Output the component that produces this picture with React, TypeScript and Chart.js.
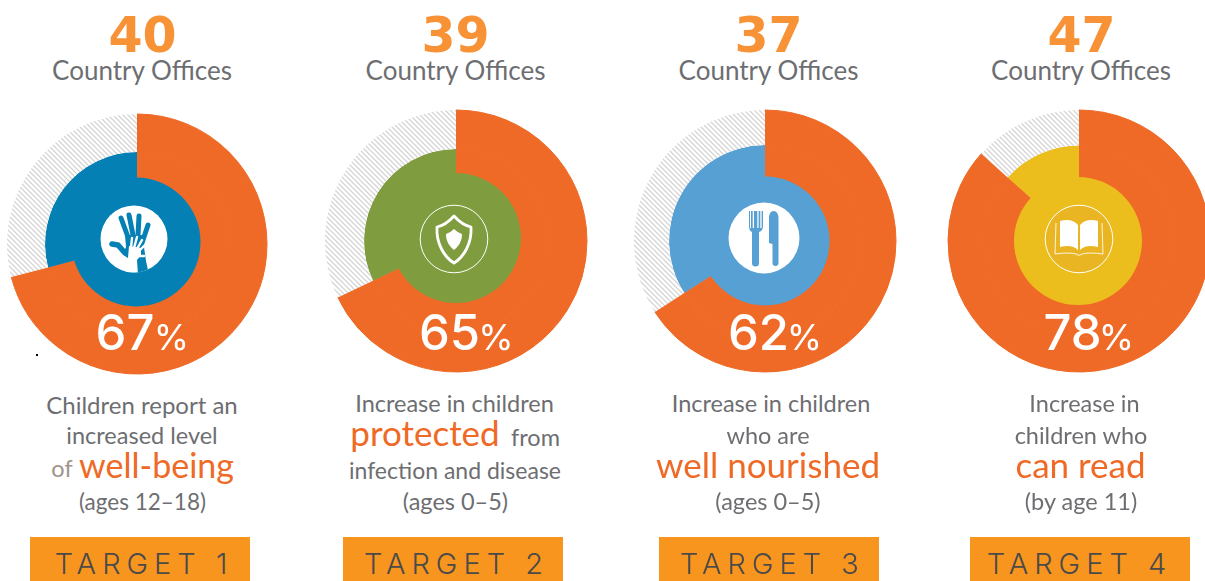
import React, { useEffect, useRef } from "react";
import { Chart, registerables } from "chart.js";

Chart.register(...registerables);

// ---- data ----
const officeCounts = ["40", "39", "37", "47"];
const officeLabel = "Country Offices";
const percentLabels = ["67", "65", "62", "78"];
const targetLabels = ["TARGET 1", "TARGET 2", "TARGET 3", "TARGET 4"];
// share of the full circle that the orange sweep actually covers in the picture
const orangeShare = [70.9, 67.9, 65.9, 86.6];
const hatchShare = [29.1, 32.1, 34.1, 13.4];
const discShare = [100, 100, 100, 100];

const descriptionLines = [
  ["Children report an", "increased level", "of", "well-being", "(ages 12\u201318)"],
  ["Increase in children", "protected", "from", "infection and disease", "(ages 0\u20135)"],
  ["Increase in children", "who are", "well nourished", "(ages 0\u20135)"],
  ["Increase in", "children who", "can read", "(by age 11)"],
];

// ---- layout and style ----
const ORANGE = "#EE6A26";
const GREY = "#6D6E71";
const discColors = ["#0480B5", "#7F9C3F", "#56A0D3", "#EBBE1E"];
const centerX = [137, 456, 765, 1079];
const centerY = [244, 241, 241, 241];
const outerR = [130, 131, 131, 131];
const midR = [92, 92, 96, 95.5];
const discX = [136, 456, 765, 1078];
const discY = [242, 238, 241, 241];
const discR = [64.5, 65, 64.5, 64];
const iconX = [134, 454, 764, 1079];
const iconY = [239, 239, 238, 239];
const countX = [142.5, 455.5, 768.5, 1081.5];
const officeX = [142, 455.5, 768.5, 1081];
const barX = [30, 343, 659, 970];
const targetCx = [144, 456.5, 772.5, 1079.5];
const percentNumX = [125, 449.5, 758.5, 1072.5];
const percentSignX = [171.5, 496, 804.5, 1116.5];

type Run = { i: number; cx: number; base: number; size?: number; big?: boolean; muted?: boolean };
const descriptionRuns: Run[][] = [
  [
    { i: 0, cx: 142, base: 414, size: 24 },
    { i: 1, cx: 142, base: 444.5 },
    { i: 2, cx: 62, base: 478, muted: true },
    { i: 3, cx: 156.5, base: 478, big: true, size: 34 },
    { i: 4, cx: 142.5, base: 510.5, size: 22.5 },
  ],
  [
    { i: 0, cx: 454.5, base: 413 },
    { i: 1, cx: 425, base: 446.5, big: true },
    { i: 2, cx: 535.5, base: 446.5 },
    { i: 3, cx: 455, base: 479, size: 23 },
    { i: 4, cx: 455.5, base: 510.5 },
  ],
  [
    { i: 0, cx: 771, base: 413 },
    { i: 1, cx: 768, base: 445 },
    { i: 2, cx: 768, base: 478, big: true },
    { i: 3, cx: 768, base: 510.5 },
  ],
  [
    { i: 0, cx: 1084.5, base: 413 },
    { i: 1, cx: 1081, base: 444.5 },
    { i: 2, cx: 1080.5, base: 478, big: true },
    { i: 3, cx: 1081, base: 510.5 },
  ],
];

const FONT = "Lato, 'Open Sans', sans-serif";
const LATO_K = 0.887;
const INTER = "Inter, Lato, sans-serif";
const INTER_K = 0.8635;
const DEJAVU = "'DejaVu Sans', sans-serif";
const DEJAVU_K = 0.846;

function makeHatch(): CanvasPattern | string {
  const t = document.createElement("canvas");
  t.width = 5;
  t.height = 5;
  const c = t.getContext("2d");
  if (!c) return "#e5e5e5";
  c.fillStyle = "#ffffff";
  c.fillRect(0, 0, 5, 5);
  c.strokeStyle = "#d4d4d4";
  c.lineWidth = 1.25;
  c.beginPath();
  c.moveTo(-1, -1);
  c.lineTo(6, 6);
  c.moveTo(-1, 4);
  c.lineTo(1, 6);
  c.moveTo(4, -1);
  c.lineTo(6, 1);
  c.stroke();
  return c.createPattern(t, "repeat") || "#e5e5e5";
}

function Ring({ index }: { index: number }) {
  const ref = useRef<HTMLCanvasElement | null>(null);
  const R = outerR[index];
  const size = 2 * Math.ceil(R) + 6;
  useEffect(() => {
    if (!ref.current) return;
    const pad = size / 2 - R - 0.5;
    const hatch = makeHatch();
    const chart = new Chart(ref.current, {
      type: "pie",
      data: {
        labels: ["Achieved", "Remaining"],
        datasets: [
          {
            data: [orangeShare[index], hatchShare[index]],
            backgroundColor: [ORANGE, hatch],
            borderColor: [ORANGE, "rgba(0,0,0,0)"],
            borderWidth: [1, 0],
            weight: R - midR[index],
          },
          {
            data: [orangeShare[index], hatchShare[index]],
            backgroundColor: [ORANGE, discColors[index]],
            borderColor: [ORANGE, discColors[index]],
            borderWidth: [1, 0],
            weight: midR[index],
          },
        ],
      },
      options: {
        responsive: false,
        animation: false,
        events: [],
        layout: { padding: pad },
        plugins: { legend: { display: false }, tooltip: { enabled: false } },
      },
    } as any);
    return () => chart.destroy();
  }, []);
  return (
    <canvas
      ref={ref}
      width={size}
      height={size}
      style={{ position: "absolute", left: centerX[index] - size / 2, top: centerY[index] - size / 2, width: size, height: size }}
    />
  );
}

function Disc({ index }: { index: number }) {
  const ref = useRef<HTMLCanvasElement | null>(null);
  const r = discR[index];
  const size = 2 * Math.ceil(r) + 6;
  useEffect(() => {
    if (!ref.current) return;
    const chart = new Chart(ref.current, {
      type: "pie",
      data: {
        labels: ["Centre"],
        datasets: [{ data: [discShare[index]], backgroundColor: [discColors[index]], borderWidth: 0 }],
      },
      options: {
        responsive: false,
        animation: false,
        events: [],
        layout: { padding: size / 2 - r },
        plugins: { legend: { display: false }, tooltip: { enabled: false } },
      },
    } as any);
    return () => chart.destroy();
  }, []);
  return (
    <canvas
      ref={ref}
      width={size}
      height={size}
      style={{ position: "absolute", left: discX[index] - size / 2, top: discY[index] - size / 2, width: size, height: size }}
    />
  );
}

function Icon({ index }: { index: number }) {
  const c = discColors[index];
  let body: React.ReactNode = null;
  if (index === 0) {
    body = (
      <>
        <clipPath id="handClip">
          <circle cx="0" cy="0" r="33.5" />
        </clipPath>
        <circle r="33.5" fill="#fff" />
        <g clipPath="url(#handClip)">
          <g stroke={c} strokeWidth="5" strokeLinecap="round" fill="none">
            <path d="M-13,-21 L-6,-2" />
            <path d="M-5,-24 L-1,-4" />
            <path d="M5,-23 L4,-4" />
            <path d="M14,-14 L8,4" />
            <path d="M-22,5 L-16,6 L-9,14" strokeWidth="5.5" />
          </g>
          <path d="M-9,-4 L10,-4 L10,8 L12,22 L15,36 L-2,36 L-4,22 L-11,15 L-8,8 Z" fill={c} />
          <g stroke="#fff" strokeWidth="2.4" strokeLinecap="round" fill="none">
            <path d="M-3,9 L-2,-1" />
            <path d="M0,9 L3,-2" />
            <path d="M3,10 L8,1" />
            <path d="M5,12 L11,6" />
            <path d="M3,17 L10,17" />
          </g>
          <path d="M-5,7 L7,9 L7,16 L3,21 L4,36 L-9,36 L-7,25 L-14,18 L-11,16.5 L-6,19 Z" fill="#fff" />
        </g>
      </>
    );
  } else if (index === 1) {
    body = (
      <>
        <circle r="33.8" fill="none" stroke="#fff" strokeWidth="1" />
        <path d="M0,-23 Q-8,-14 -17,-12 C-18,4 -10,18 0,24 C10,18 18,4 17,-12 Q8,-14 0,-23 Z" fill="none" stroke="#fff" strokeWidth="2.8" strokeLinejoin="round" />
        <path d="M0,-10 Q-4,-6 -8,-5 C-8,2 -5,7 0,11 C5,7 8,2 8,-5 Q4,-6 0,-10 Z" fill="#fff" />
      </>
    );
  } else if (index === 2) {
    body = (
      <>
        <circle r="35.5" fill="#fff" />
        <path d="M-15,-27 H-14 V-10 H-13 V-27 H-11.3 V-10 H-10 V-27 H-6.7 V-10 H-5.4 V-27 H-3.7 V-10 H-2.4 V-27 H-1 V-12 Q-1,-7 -5,-6 V25 A3.5,3.5 0 0 1 -12,25 V-6 Q-15,-7 -15,-12 Z" fill={c} />
        <path d="M5,-19 Q5,-27 9.5,-27 Q14.5,-27 14.5,-19 V25 A3,3 0 0 1 8.5,25 V6 L5,5 Z" fill={c} />
      </>
    );
  } else {
    body = (
      <>
        <circle r="33.8" fill="#E9B522" stroke="#fff" strokeWidth="1" />
        <path d="M-23,-16 L-24,15 Q-10,13 -3,15 Q0,18 3,15 Q10,13 24,15 L23,-16" fill="none" stroke="#fff" strokeWidth="1" opacity="0.85" />
        <path d="M-19,-18 Q-7,-21 -1,-14 V11 Q-7,5 -19,8 Z" fill="#fff" />
        <path d="M19,-18 Q7,-21 1,-14 V11 Q7,5 19,8 Z" fill="#fff" />
      </>
    );
  }
  return (
    <svg
      width="80"
      height="80"
      viewBox="-40 -40 80 80"
      style={{ position: "absolute", left: iconX[index] - 40, top: iconY[index] - 40 }}
    >
      {body}
    </svg>
  );
}

function Txt(props: {
  text: string;
  cx: number;
  base: number;
  size: number;
  color: string;
  weight?: number;
  spacing?: number;
  font?: string;
  k?: number;
}) {
  const { text, cx, base, size, color, weight = 400, spacing = 0, font = FONT, k = LATO_K } = props;
  return (
    <div
      style={{
        position: "absolute",
        left: cx,
        top: base - size * k,
        transform: "translateX(-50%)",
        fontFamily: font,
        fontSize: size,
        lineHeight: 1,
        fontWeight: weight,
        color,
        letterSpacing: spacing,
        whiteSpace: "nowrap",
      }}
    >
      {text}
    </div>
  );
}

export default function App() {
  return (
    <div
      style={{ position: "fixed", left: 0, top: 0, width: 1205, height: 581, overflow: "hidden", background: "#fff" }}
    >
      {officeCounts.map((_, i) => (
        <React.Fragment key={i}>
          <Ring index={i} />
          <Disc index={i} />
          <Icon index={i} />
          <Txt text={officeCounts[i]} cx={countX[i]} base={52} size={49} color="#F79237" weight={700} font={DEJAVU} k={DEJAVU_K} />
          <Txt text={officeLabel} cx={officeX[i]} base={80} size={26} color={GREY} />
          <Txt text={percentLabels[i]} cx={percentNumX[i]} base={350.5} size={49} color="#fff" weight={500} font={INTER} k={INTER_K} />
          <Txt text="%" cx={percentSignX[i]} base={350.5} size={36} color="#fff" font={INTER} k={INTER_K} />
          {descriptionRuns[i].map((r) => (
            <Txt
              key={r.i}
              text={descriptionLines[i][r.i]}
              cx={r.cx}
              base={r.base}
              size={r.size ?? (r.big ? 35 : 23.5)}
              color={r.big ? ORANGE : r.muted ? "#A0948A" : GREY}
            />
          ))}
          <div style={{ position: "absolute", left: barX[i], top: 537, width: 220, height: 44, background: "#F8951F" }} />
          <Txt text={targetLabels[i]} cx={targetCx[i]} base={574} size={29} color="#4A4A4A" spacing={6} weight={300} font={INTER} k={INTER_K} />
        </React.Fragment>
      ))}
      <div style={{ position: "absolute", left: 36, top: 354, width: 2, height: 2, background: "#000" }} />
    </div>
  );
}
